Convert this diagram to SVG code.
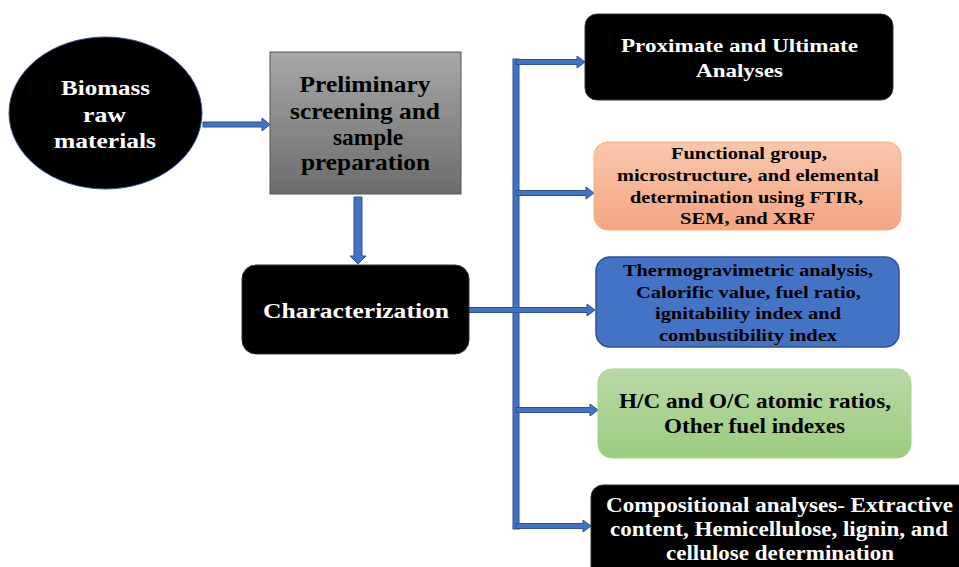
<svg xmlns="http://www.w3.org/2000/svg" width="959" height="567" viewBox="0 0 959 567">
<defs>
<linearGradient id="gGray" x1="0" y1="0" x2="0" y2="1"><stop offset="0" stop-color="#a8a8a8"/><stop offset="1" stop-color="#6c6c6c"/></linearGradient>
<linearGradient id="gOrange" x1="0" y1="0" x2="0" y2="1"><stop offset="0" stop-color="#f8c7ad"/><stop offset="1" stop-color="#f4a482"/></linearGradient>
<linearGradient id="gGreen" x1="0" y1="0" x2="0" y2="1"><stop offset="0" stop-color="#b9d9a6"/><stop offset="1" stop-color="#9ccb7f"/></linearGradient>
<style>
.t{font-family:"Liberation Serif","Times New Roman",serif;font-weight:bold;text-anchor:middle}
.w{fill:#ffffff}
.k{fill:#000000}
.arr{fill:#4472c4;stroke:#2f528f;stroke-width:1}
</style>
</defs>
<rect width="959" height="567" fill="#ffffff"/>
<g id="connectors">
<path class="arr" d="M203,122 H262 V118 L270,124.5 L262,131 V127 H203 Z"/>
<path class="arr" d="M354,197 H362 V256 H366 L358,264 L350,256 H354 Z"/>
<rect class="arr" x="513" y="59" width="6" height="470"/>
<path class="arr" d="M469,307.5 H587 V304 L595,310 L587,316 V312.5 H469 Z"/>
<path class="arr" d="M516,59.5 H577 V56 L585,62 L577,68 V64.5 H516 Z"/>
<path class="arr" d="M516,190.5 H586 V187 L594,193 L586,199 V195.5 H516 Z"/>
<path class="arr" d="M516,407.5 H590 V404 L598,410 L590,416 V412.5 H516 Z"/>
<path class="arr" d="M516,523.5 H583 V520 L591,526 L583,532 V528.5 H516 Z"/>
</g>
<g id="biomass">
<ellipse cx="105.5" cy="113" rx="96.5" ry="76" fill="#000000" stroke="#2f528f" stroke-width="1"/>
<text class="t w" x="105.5" y="95" font-size="22" textLength="89" lengthAdjust="spacingAndGlyphs">Biomass</text>
<text class="t w" x="104.5" y="122" font-size="22" textLength="43" lengthAdjust="spacingAndGlyphs">raw</text>
<text class="t w" x="105" y="148" font-size="22" textLength="102" lengthAdjust="spacingAndGlyphs">materials</text>
</g>
<g id="preliminary">
<rect x="270" y="52" width="191" height="142" fill="url(#gGray)" stroke="#555555" stroke-width="1"/>
<text class="t k" x="365" y="92" font-size="24" textLength="131" lengthAdjust="spacingAndGlyphs">Preliminary</text>
<text class="t k" x="365" y="119" font-size="24" textLength="150" lengthAdjust="spacingAndGlyphs">screening and</text>
<text class="t k" x="368" y="145" font-size="24" textLength="70" lengthAdjust="spacingAndGlyphs">sample</text>
<text class="t k" x="365.5" y="170" font-size="24" textLength="129" lengthAdjust="spacingAndGlyphs">preparation</text>
</g>
<g id="characterization">
<rect x="242" y="265" width="227" height="89" rx="14" fill="#000000" stroke="#333333" stroke-width="1"/>
<text class="t w" x="356" y="318" font-size="22" textLength="186" lengthAdjust="spacingAndGlyphs">Characterization</text>
</g>
<g id="proximate">
<rect x="585" y="14" width="308" height="86" rx="12" fill="#000000" stroke="#333333" stroke-width="1"/>
<text class="t w" x="739.5" y="52" font-size="19" textLength="237" lengthAdjust="spacingAndGlyphs">Proximate and Ultimate</text>
<text class="t w" x="739.5" y="77" font-size="19" textLength="87" lengthAdjust="spacingAndGlyphs">Analyses</text>
</g>
<g id="functional">
<rect x="594" y="142" width="307" height="88" rx="14" fill="url(#gOrange)" stroke="#f4b183" stroke-width="1"/>
<text class="t k" x="749" y="159" font-size="17" textLength="156" lengthAdjust="spacingAndGlyphs">Functional group,</text>
<text class="t k" x="748" y="181" font-size="17" textLength="262" lengthAdjust="spacingAndGlyphs">microstructure, and elemental</text>
<text class="t k" x="746.5" y="203" font-size="17" textLength="233" lengthAdjust="spacingAndGlyphs">determination using FTIR,</text>
<text class="t k" x="747.5" y="224" font-size="17" textLength="135" lengthAdjust="spacingAndGlyphs">SEM, and XRF</text>
</g>
<g id="thermo">
<rect x="596" y="257" width="303" height="90" rx="14" fill="#4472c4" stroke="#2f528f" stroke-width="1.5"/>
<text class="t k" x="748" y="276" font-size="17" textLength="250" lengthAdjust="spacingAndGlyphs">Thermogravimetric analysis,</text>
<text class="t k" x="748.5" y="298" font-size="17" textLength="225" lengthAdjust="spacingAndGlyphs">Calorific value, fuel ratio,</text>
<text class="t k" x="748" y="319" font-size="17" textLength="186" lengthAdjust="spacingAndGlyphs">ignitability index and</text>
<text class="t k" x="748" y="341" font-size="17" textLength="178" lengthAdjust="spacingAndGlyphs">combustibility index</text>
</g>
<g id="ratios">
<rect x="598" y="369" width="313" height="89" rx="14" fill="url(#gGreen)" stroke="#a9d18e" stroke-width="1"/>
<text class="t k" x="755" y="408" font-size="21" textLength="272" lengthAdjust="spacingAndGlyphs">H/C and O/C atomic ratios,</text>
<text class="t k" x="754.5" y="433" font-size="21" textLength="181" lengthAdjust="spacingAndGlyphs">Other fuel indexes</text>
</g>
<g id="compositional">
<rect x="591" y="485" width="390" height="110" rx="12" fill="#000000" stroke="#333333" stroke-width="1"/>
<text class="t w" x="779.5" y="512" font-size="20" textLength="347" lengthAdjust="spacingAndGlyphs">Compositional analyses- Extractive</text>
<text class="t w" x="779" y="536" font-size="20" textLength="338" lengthAdjust="spacingAndGlyphs">content, Hemicellulose, lignin, and</text>
<text class="t w" x="780" y="560" font-size="20" textLength="228" lengthAdjust="spacingAndGlyphs">cellulose determination</text>
</g>
</svg>
